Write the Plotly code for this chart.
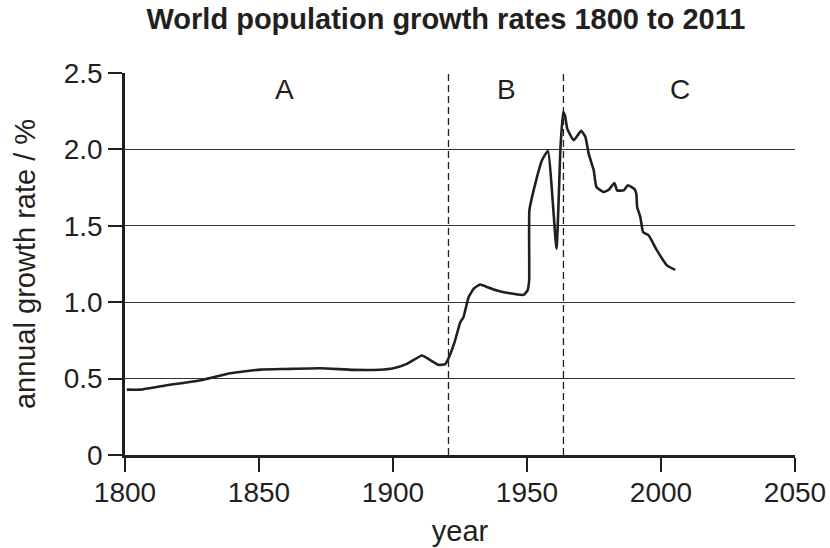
import plotly.graph_objects as go

years = [1800.7, 1805.7, 1815, 1829.3, 1839.3, 1850.5, 1860, 1872.9, 1885.3, 1895, 1900.2,
         1905.2, 1910.8, 1914, 1917, 1919.5, 1920.8, 1923, 1925.1, 1926.3, 1928.2, 1930.2, 1932.5,
         1935, 1938.8, 1943, 1948.7, 1950.2, 1950.8, 1950.9, 1953.1, 1955.6, 1957.8, 1961,
         1962.5, 1963.5, 1964.2, 1965, 1967.4, 1970.2, 1971.8, 1973, 1974.9, 1975.9, 1978.6,
         1980.5, 1982.6, 1983.6, 1986.1, 1987.6, 1990.1, 1990.8, 1991.1, 1992.3, 1993.3,
         1995.4, 1998.5, 2002.2, 2005.3]
rates = [0.428, 0.428, 0.455, 0.493, 0.535, 0.559, 0.563, 0.568, 0.557, 0.558, 0.568,
         0.596, 0.651, 0.62, 0.590, 0.595, 0.636, 0.74, 0.869, 0.902, 1.033, 1.09, 1.116,
         1.10, 1.077, 1.06, 1.048, 1.077, 1.142, 1.601, 1.776, 1.929, 1.990, 1.350,
         2.016, 2.245, 2.22, 2.136, 2.060, 2.121, 2.081, 1.972, 1.863, 1.754, 1.721,
         1.736, 1.780, 1.732, 1.732, 1.765, 1.74, 1.710, 1.623, 1.557, 1.459,
         1.437, 1.339, 1.241, 1.212]

x_ticks = [1800, 1850, 1900, 1950, 2000, 2050]
y_ticks = [0, 0.5, 1.0, 1.5, 2.0, 2.5]
y_tick_labels = ["0", "0.5", "1.0", "1.5", "2.0", "2.5"]
period_bounds = [1920.7, 1963.6]
period_labels = ["A", "B", "C"]
period_label_x = [1859.5, 1942.3, 2007]

ink = "#231f20"
font = "Liberation Sans, Arial, Helvetica, sans-serif"

fig = go.Figure()
fig.add_trace(go.Scatter(x=years, y=rates, mode="lines",
                         line=dict(color=ink, width=2.6, shape="spline", smoothing=0.4),
                         showlegend=False, hoverinfo="skip"))

for xb in period_bounds:
    fig.add_shape(type="line", x0=xb, x1=xb, y0=0, y1=2.5, xref="x", yref="y",
                  line=dict(color=ink, width=1.3, dash="7px,4px"), layer="above")

for lab, lx in zip(period_labels, period_label_x):
    fig.add_annotation(x=lx, y=2.39, text=lab, showarrow=False, xref="x", yref="y",
                       font=dict(family=font, size=28, color=ink))

fig.update_layout(
    width=830, height=548,
    margin=dict(l=124.7, r=35.3, t=72.8, b=93),
    paper_bgcolor="white", plot_bgcolor="white",
    title=dict(text="<b>World population growth rates 1800 to 2011</b>",
               x=0.5373, xanchor="center", y=0.9836, yanchor="top",
               font=dict(family=font, size=29, color=ink)),
    font=dict(family=font, color=ink),
)
fig.update_xaxes(range=[1800, 2050], tickvals=x_ticks, ticks="outside", ticklen=14,
                 tickwidth=2.4, tickcolor=ink, showline=True, linecolor=ink, linewidth=2.6,
                 showgrid=False, zeroline=False, automargin=False, ticklabelstandoff=-3,
                 tickfont=dict(family=font, size=28, color=ink),
                 title=dict(text="year", font=dict(family=font, size=29, color=ink), standoff=14))
fig.update_yaxes(range=[0, 2.5], tickvals=y_ticks, ticktext=y_tick_labels, ticks="outside",
                 ticklen=14, tickwidth=2.4, tickcolor=ink, showline=True, linecolor=ink,
                 linewidth=2.6, showgrid=True, gridcolor="#333333", gridwidth=1.2, zeroline=False,
                 automargin=False,
                 tickfont=dict(family=font, size=28, color=ink),
                 title=dict(text="annual growth rate / %", font=dict(family=font, size=29, color=ink),
                            standoff=20))

# remove the page's default 8px body margin so the figure fills the window exactly
fig.write_html("out.html", config={"displayModeBar": False},
               post_script="document.body.style.margin='0';")
